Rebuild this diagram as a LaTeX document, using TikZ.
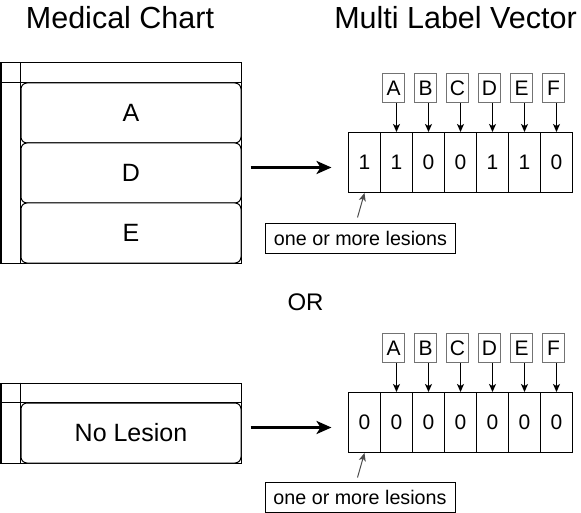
\documentclass[tikz,border=0pt]{standalone}
\usepackage{fontspec}
\setmainfont{Liberation Sans}
\usetikzlibrary{arrows.meta}
\begin{document}
\begin{tikzpicture}[x=1bp,y=-1bp, line width=1bp,
  title/.style={font=\fontsize{30.5bp}{36bp}\selectfont, inner sep=0},
  rowbox/.style={draw, fill=white, rounded corners=6bp, minimum width=220bp, minimum height=60bp, inner sep=0, anchor=north west, font=\fontsize{25bp}{30bp}\selectfont},
  tablebox/.style={draw, minimum width=240bp, inner sep=0, anchor=north west},
  cell/.style={draw, minimum width=32bp, minimum height=60bp, inner sep=0, font=\fontsize{21bp}{25bp}\selectfont},
  lab/.style={draw=black!55, line width=1.4bp, minimum width=22bp, minimum height=29bp, inner sep=0, font=\fontsize{21bp}{25bp}\selectfont},
  note/.style={draw, minimum width=190bp, minimum height=30bp, inner sep=0, font=\fontsize{19.7bp}{24bp}\selectfont},
  bigarrow/.style={line width=3bp, -{Stealth[length=15bp,width=13bp,inset=4bp]}},
  smallarrow/.style={-{Stealth[length=8bp,width=7bp,inset=2bp]}},
  ptrarrow/.style={draw=black!70, -{Stealth[length=8bp,width=7bp,inset=2bp]}},
]
\useasboundingbox (0,0) rectangle (581,513);
\begin{scope}[shift={(0.5,0.5)}]
% titles
\node[title] (t1) at (119.5,17.5) {Medical Chart};
\node[title] (t2) at (455,17.5) {Multi Label Vector};
\node[font=\fontsize{24bp}{28bp}\selectfont, inner sep=0] (or) at (305,302) {OR};

% ---------- top chart ----------
\node[tablebox, minimum height=200bp] (tab1) at (0,62) {};
\draw (0,82) -- (240,82);
\draw (20,62) -- (20,262);
\node[rowbox] (rA) at (20,82) {A};
\node[rowbox] (rD) at (20,142) {D};
\node[rowbox] (rE) at (20,202) {E};

\coordinate (a1s) at (250,167);
\coordinate (a1e) at (331,167);
\draw[bigarrow] (a1s) -- (a1e);

% vector 1
\foreach \v [count=\k from 0] in {1,1,0,0,1,1,0} {
  \node[cell] (c1-\k) at (364+32*\k,162) {\v};
}
\foreach \l [count=\k from 1] in {A,B,C,D,E,F} {
  \node[lab] (l1-\k) at (361+32*\k,87.5) {\l};
  \draw[smallarrow] (l1-\k.south -| c1-\k.north) -- (c1-\k.north);
}
\node[note] (n1) at (360,238) {one or more lesions};
\coordinate (p1) at (357,217);
\draw[ptrarrow] (p1) -- (c1-0.south);

% ---------- bottom chart ----------
\node[tablebox, minimum height=80bp] (tab2) at (0,382) {};
\draw (0,402) -- (240,402);
\draw (20,382) -- (20,462);
\node[rowbox] (rN) at (20,402) {No Lesion};

\coordinate (a2s) at (250,427);
\coordinate (a2e) at (331,427);
\draw[bigarrow] (a2s) -- (a2e);

\foreach \v [count=\k from 0] in {0,0,0,0,0,0,0} {
  \node[cell] (c2-\k) at (364+32*\k,422) {\v};
}
\foreach \l [count=\k from 1] in {A,B,C,D,E,F} {
  \node[lab] (l2-\k) at (361+32*\k,347.5) {\l};
  \draw[smallarrow] (l2-\k.south -| c2-\k.north) -- (c2-\k.north);
}
\node[note] (n2) at (359.5,497) {one or more lesions};
\coordinate (p2) at (357,477);
\draw[ptrarrow] (p2) -- (c2-0.south);
\end{scope}
\end{tikzpicture}
\end{document}
